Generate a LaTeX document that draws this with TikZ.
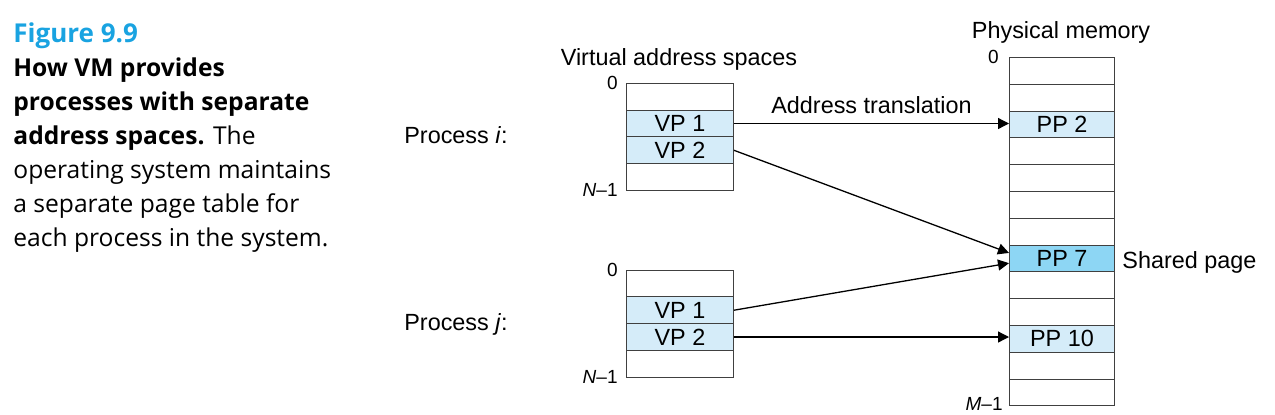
\documentclass[tikz,border=0pt]{standalone}
\usepackage{fontspec}
\setmainfont{Liberation Sans}
\newfontfamily\capfont{Open Sans}
\usetikzlibrary{arrows.meta}
\definecolor{vpblue}{HTML}{D5ECF9}
\definecolor{shblue}{HTML}{8DD6F4}
\definecolor{figblue}{HTML}{19A3E1}
\tikzset{
  vrow/.style={draw=black!75, line width=0.5pt, minimum width=53.5pt, minimum height=13.4pt, inner sep=0pt, anchor=north west, font=\fontsize{11.7}{13}\selectfont},
  prow/.style={vrow, minimum width=52.5pt},
  used/.style={fill=vpblue},
  shared/.style={fill=shblue},
  idx/.style={inner sep=0pt, anchor=east, font=\fontsize{9.5}{11}\selectfont},
  lbl/.style={inner sep=0pt, anchor=base, font=\fontsize{11.7}{13}\selectfont},
  captext/.style={inner sep=0pt, anchor=base west, font=\capfont\fontsize{12.3}{14}\selectfont},
  map/.style={-{Triangle[length=5.5pt,width=5.5pt]}, line width=0.65pt},
}
\begin{document}
\begin{tikzpicture}[x=0.5pt, y=-0.5pt]
\useasboundingbox (0,0) rectangle (1275,414);
% caption
\node[captext, text=figblue, font=\capfont\fontsize{13}{15}\selectfont] (c0) at (13,42) {\bfseries Figure 9.9};
\node[captext] (c1) at (13,76) {\bfseries How VM provides};
\node[captext] (c2) at (13,110) {\bfseries processes with separate};
\node[captext] (c3) at (13,144) {\textbf{address spaces.} The};
\node[captext] (c4) at (13,178) {operating system maintains};
\node[captext] (c5) at (13,212) {a separate page table for};
\node[captext] (c6) at (13,246) {each process in the system.};
% headings
\node[lbl] (vhead) at (679,65) {Virtual address spaces};
\node[lbl] (phead) at (1061,38) {Physical memory};
\node[lbl] (proci) at (456,143) {Process \textit{i}:};
\node[lbl] (procj) at (456,330) {Process \textit{j}:};
% process i
\node[vrow] (vi0) at (626,82.8){};
\node[vrow, used] (vi1) at (626,109.6){VP 1};
\node[vrow, used] (vi2) at (626,136.4){VP 2};
\node[vrow] (vi3) at (626,163.2){};
\node[idx] (vitop) at (618,83){0};
\node[idx] (vibot) at (618,190){\textit{N}--1};
% process j
\node[vrow] (vj0) at (626,269.5){};
\node[vrow, used] (vj1) at (626,296.3){VP 1};
\node[vrow, used] (vj2) at (626,323.1){VP 2};
\node[vrow] (vj3) at (626,349.9){};
\node[idx] (vjtop) at (618,270){0};
\node[idx] (vjbot) at (618,377){\textit{N}--1};
% physical memory
\node[prow] (pm0) at (1009,57){};
\node[prow] (pm1) at (1009,83.8){};
\node[prow, used] (pm2) at (1009,110.6){PP 2};
\node[prow] (pm3) at (1009,137.4){};
\node[prow] (pm4) at (1009,164.2){};
\node[prow] (pm5) at (1009,191){};
\node[prow] (pm6) at (1009,217.8){};
\node[prow, shared] (pm7) at (1009,244.6){PP 7};
\node[prow] (pm8) at (1009,271.4){};
\node[prow] (pm9) at (1009,298.2){};
\node[prow, used] (pm10) at (1009,325){PP 10};
\node[prow] (pm11) at (1009,351.8){};
\node[prow] (pm12) at (1009,378.6){};
\node[idx] (pmtop) at (999,57){0};
\node[idx] (pmbot) at (1003,404){\textit{M}--1};
\node[lbl, anchor=base west] (share) at (1122,268) {Shared page};
% translations
\draw[map] (vi1.east) -- (vi1.east -| pm2.west) node[lbl, midway, above=4.5pt] (xlate) {Address translation};
\draw[map] (vi2.east) -- (pm7.174);
\draw[map] (vj1.east) -- (pm7.185);
\draw[map] (vj2.east) -- (vj2.east -| pm10.west);
\end{tikzpicture}
\end{document}
